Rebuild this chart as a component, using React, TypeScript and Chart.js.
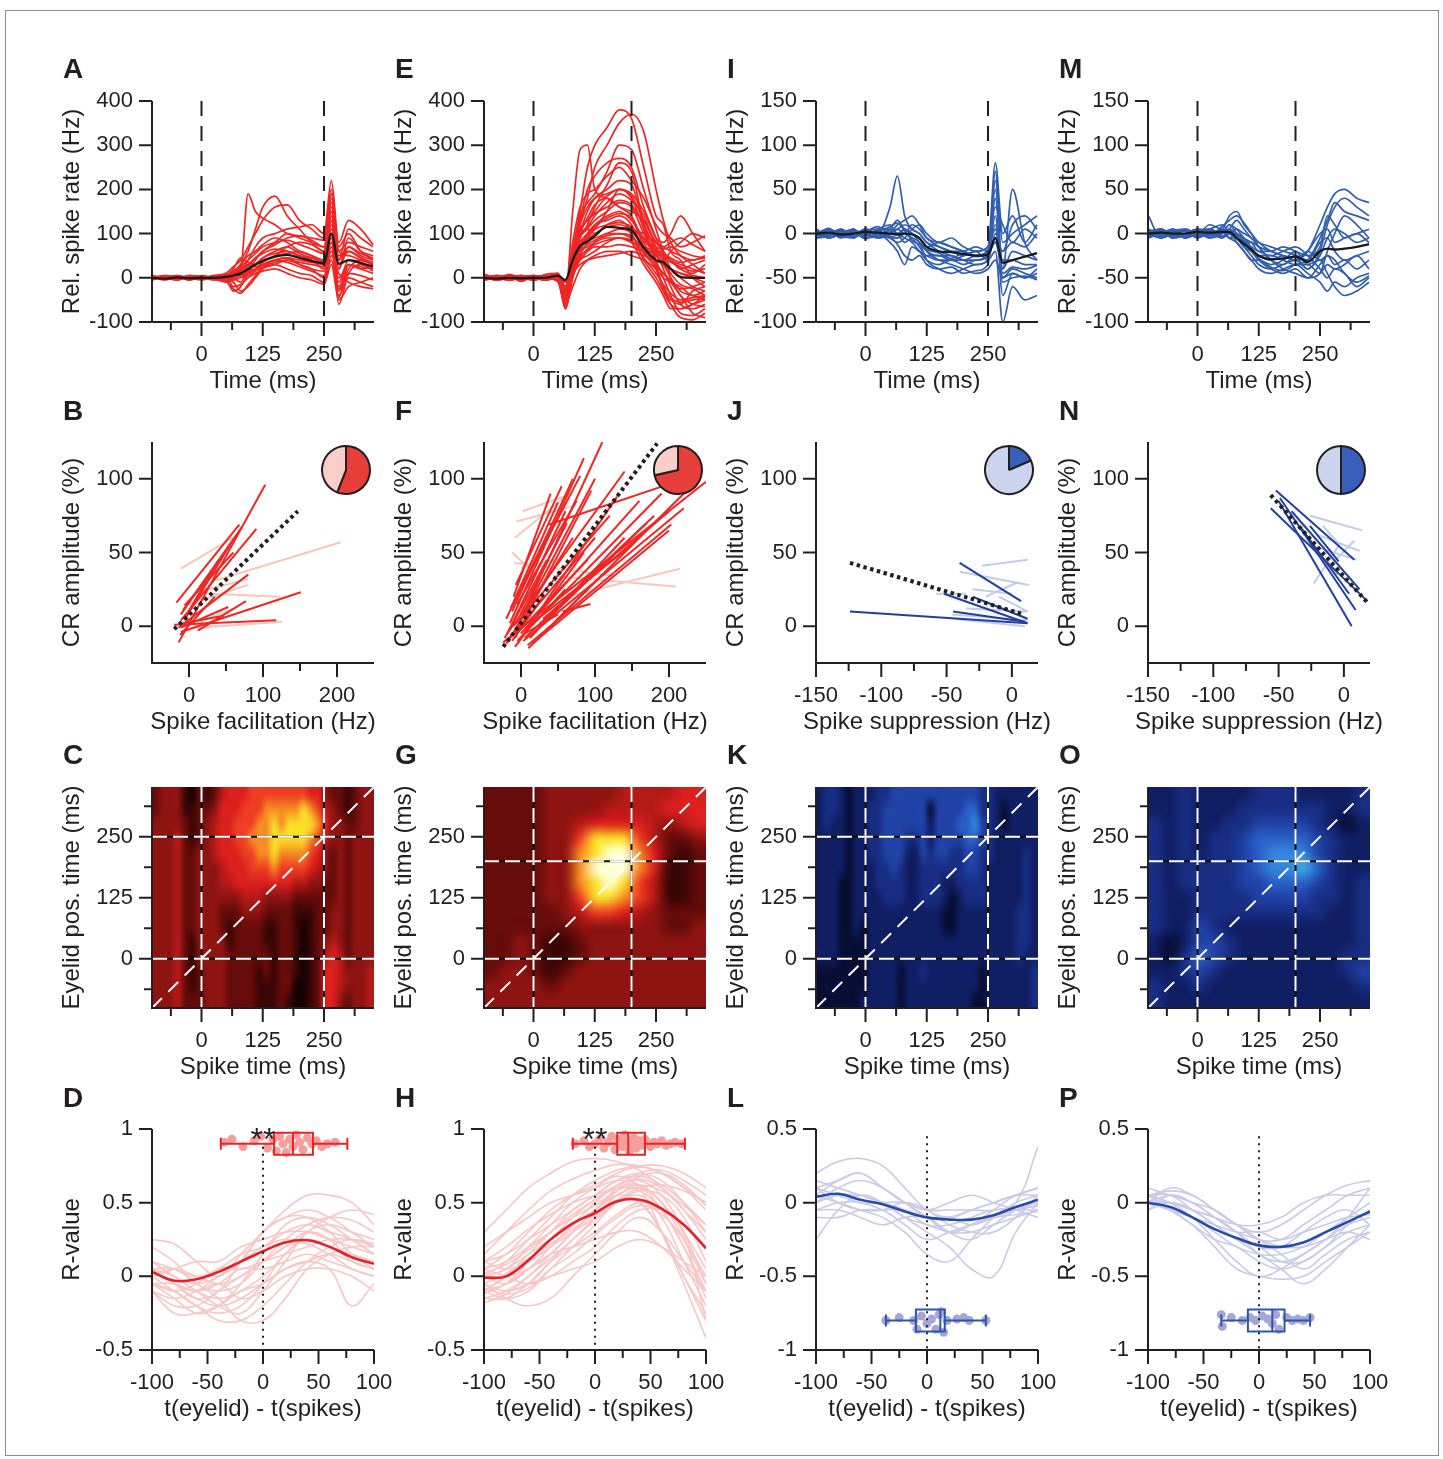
import React, { useEffect, useRef } from 'react';
import { Chart, registerables } from 'chart.js';
Chart.register(...registerables);

const FONT = '"Liberation Sans", Arial, Helvetica, sans-serif';
const INK = '#231f20';

// ---------------- Row 1: relative spike rate traces ----------------
const timeBins = [-100, -75, -50, -25, 0, 25, 50, 65, 80, 95, 110, 125, 150, 175, 200, 225, 250, 265, 280, 300, 325, 350];

const meanA = [0, -2, 1, -1, 0, 0, 2, 5, 10, 20, 30, 38, 48, 52, 45, 38, 33, 100, 32, 40, 33, 26];
const tracesA = [
  [5, 0, -5, 3, 0, 2, 5, 10, 20, 190, 150, 135, 120, 100, 95, 90, 85, 200, 60, 50, 40, 30],
  [-3, 5, 2, -4, 3, 0, -5, 15, 30, 60, 110, 160, 185, 140, 110, 80, 60, 180, 40, 70, 50, 40],
  [2, -5, 4, 0, -3, 5, 10, 25, 40, 70, 100, 130, 160, 165, 130, 110, 90, 150, 50, 60, 45, 30],
  [0, 3, -2, 5, 0, -4, 0, 5, 15, 40, 70, 90, 100, 110, 115, 120, 100, 220, 80, 130, 110, 75],
  [-5, 2, 0, -3, 5, 0, -5, -30, -20, 10, 40, 60, 80, 100, 90, 80, 70, 170, 20, 90, 60, 50],
  [3, -2, 5, 0, -5, 3, 5, 0, -10, 20, 30, 45, 60, 70, 55, 45, 40, 130, -30, 20, 40, 30],
  [0, 5, -4, 2, 0, -2, 0, 10, 30, 50, 60, 75, 90, 80, 60, 50, 40, 90, -60, 10, 30, 20],
  [-2, 0, 3, -5, 2, 0, -5, -10, -30, -20, 0, 20, 30, 40, 30, 20, 15, 60, -20, 30, 20, 10],
  [4, -3, 0, 2, -3, 5, 5, 15, 5, 10, 20, 35, 50, 55, 60, 50, 40, 110, 60, 80, 70, 60],
  [0, 2, -5, 3, 0, -3, -10, 5, 20, 30, 25, 30, 40, 45, 30, 20, 0, 40, -40, 0, -10, -20],
  [-3, 4, 2, -2, 4, 0, 0, -5, 10, 15, 20, 25, 30, 20, 10, 5, -10, 50, 10, -10, -20, -25],
  [2, -4, 0, 3, -2, 2, 5, 20, 45, 35, 30, 40, 50, 70, 80, 75, 60, 160, 70, 100, 60, 40],
  [0, 0, 3, -3, 0, 4, -3, 0, 5, 15, 30, 45, 55, 60, 50, 40, 20, 80, -10, 40, 35, 15],
  [-4, 3, -3, 5, 3, -5, 3, -20, -15, 0, 10, 15, 20, 10, 0, -5, -15, 30, -50, -20, -10, 0],
  [2, -2, 4, -4, 2, -2, 0, 5, 10, 25, 45, 55, 65, 60, 50, 45, 35, 120, 30, 60, 45, 35],
  [-2, 2, -2, 2, -2, 2, 3, -5, 0, 5, 15, 25, 35, 40, 35, 30, 25, 100, 0, 30, 20, 25],
  [3, -3, 3, -3, 3, -3, -8, -25, -35, -15, 5, 25, 40, 45, 40, 35, 30, 140, -45, 30, 25, 20],
  [-3, 3, -3, 3, -3, 3, 8, 10, 25, 40, 55, 70, 80, 85, 75, 65, 55, 190, 40, 110, 90, 70],
  [1, -1, 5, -5, 1, -1, 2, 0, 5, 10, 20, 30, 40, 35, 25, 15, 5, 70, -25, 10, 5, -5],
  [-1, 1, -5, 5, -1, 1, -2, 5, 15, 30, 45, 60, 75, 90, 95, 85, 70, 150, 20, 70, 55, 45],
];

const meanE = [0, -2, 0, -1, 0, 0, 5, -5, 40, 72, 82, 95, 115, 113, 107, 68, 40, 35, 20, 2, 0, 0];
const tracesE = [
  [5, -3, 8, 0, -5, 3, 0, -40, 150, 290, 300, 200, 180, 160, 150, 130, 80, 60, 40, 30, 20, 10],
  [0, 5, -5, 3, 0, -5, 5, -20, 60, 150, 250, 300, 340, 380, 360, 250, 140, 120, 60, 40, 0, -20],
  [-5, 0, 3, -8, 5, 0, -10, -60, 40, 120, 180, 250, 300, 350, 370, 330, 200, 130, 80, 50, 30, 10],
  [3, -5, 0, 5, -3, 8, 10, -30, 80, 160, 190, 200, 230, 250, 220, 180, 120, 100, 90, 70, 80, 95],
  [0, 3, -3, 0, 5, -3, 0, -50, 30, 100, 150, 180, 200, 220, 210, 120, 60, 20, -20, -60, -70, -60],
  [8, 0, 5, -5, 0, 3, -5, -70, 20, 90, 110, 130, 150, 170, 160, 100, 50, 30, 0, -30, -40, -50],
  [-3, 5, 0, 3, -5, 0, 5, -40, 50, 110, 130, 150, 180, 160, 140, 80, 30, 10, -10, -40, -80, -90],
  [0, -5, 3, 0, 3, -5, 0, -60, 20, 70, 90, 120, 130, 140, 120, 60, 20, -20, -60, -90, -95, -80],
  [5, 0, -3, 5, 0, 3, 10, -20, 60, 100, 110, 100, 120, 130, 110, 100, 80, 70, 60, 50, 40, 50],
  [-5, 3, 5, -3, 0, 0, -5, -50, 10, 50, 80, 90, 100, 110, 100, 40, 0, -30, -50, -60, -30, -20],
  [3, 0, -5, 0, 3, 5, 0, -30, 30, 60, 70, 80, 90, 90, 80, 70, 60, 50, 40, 20, 30, 40],
  [0, -3, 0, 5, -3, -3, 5, -60, 0, 40, 50, 60, 80, 90, 80, 30, -10, -40, -70, -70, -60, -50],
  [-3, 5, 3, -5, 5, 0, 0, -40, 20, 50, 60, 70, 70, 75, 70, 60, 40, 30, 20, 10, 0, -10],
  [5, -5, 0, 3, 0, -5, 5, -10, 40, 80, 90, 110, 150, 200, 190, 150, 90, 80, 100, 140, 100, 60],
  [0, 3, -3, 0, -5, 3, 0, -60, -20, 20, 40, 50, 60, 60, 50, 40, 20, 0, -10, -20, -40, -30],
  [-5, 0, 5, -3, 0, 5, -5, -30, 10, 30, 40, 45, 50, 55, 60, 50, 40, 30, 20, 10, 5, 0],
  [3, -3, 0, 3, 5, -3, 0, -50, 30, 90, 120, 160, 210, 260, 240, 120, 40, 0, -40, -80, -85, -70],
  [0, 5, -5, 0, -3, 0, 3, -70, 0, 60, 100, 120, 140, 150, 130, 90, 60, 50, 40, 20, 10, 30],
  [-3, 0, 3, 5, 0, 3, -3, -20, 50, 120, 160, 180, 190, 200, 180, 110, 30, -30, -60, -70, -60, -40],
  [5, -3, -3, 0, 3, -5, 0, -40, 20, 40, 60, 80, 100, 100, 90, 70, 50, 40, 60, 80, 100, 90],
  [-2, 4, -4, 2, -2, 4, 3, -45, 60, 140, 170, 190, 240, 300, 290, 200, 110, 60, 20, 0, -20, -30],
  [2, -2, 2, -2, 4, -4, 0, -35, 35, 80, 100, 110, 120, 125, 115, 85, 55, 45, 35, 25, 15, 20],
  [0, 2, -2, 4, -4, 2, 5, -25, 45, 95, 115, 140, 170, 190, 175, 140, 70, 40, 10, -15, -25, -40],
  [-4, 2, 0, -2, 2, 0, -3, -55, 15, 60, 75, 85, 95, 100, 95, 55, 25, 10, -5, -25, -20, -10],
  [3, -4, 6, -2, 0, -3, 2, -65, 10, 70, 95, 115, 135, 145, 135, 70, 20, -20, -45, -55, -50, -45],
  [-3, 4, -6, 2, 3, 3, -2, -45, 40, 100, 135, 165, 185, 200, 185, 130, 80, 70, 80, 90, 75, 60],
  [4, 0, -4, 4, -4, 0, 4, -30, 25, 65, 85, 100, 115, 120, 110, 90, 65, 55, 45, 35, 40, 45],
  [0, -4, 4, 0, 4, -4, 0, -50, 50, 130, 200, 230, 260, 270, 250, 160, 90, 50, 0, -40, -60, -65],
  [-4, 4, 0, -4, 0, 4, -4, -60, 5, 45, 65, 75, 85, 90, 85, 45, 10, -15, -35, -50, -45, -40],
  [2, 2, -2, -2, 2, 2, 6, -20, 55, 110, 130, 145, 160, 175, 165, 120, 70, 65, 70, 60, 50, 45],
];

const meanI = [0, 1, -1, 0, 2, 1, 0, -1, 0, -1, -5, -15, -20, -21, -23, -25, -24, -5, -33, -30, -26, -22];
const tracesI = [
  [5, -3, 2, 0, 5, 0, 30, 65, 20, 5, 0, -10, -15, -20, -25, -20, -15, 80, 0, 20, -10, 10],
  [0, 5, -3, 3, -2, 5, 10, 0, 5, 0, -10, -30, -40, -45, -40, -35, -30, 70, -50, -45, -50, -40],
  [-5, 0, 3, -5, 5, -3, 0, 10, 15, 20, 10, -5, -10, -15, -20, -25, -20, 50, -40, 50, -10, -30],
  [3, -5, 0, 5, -5, 0, -10, -20, -35, -15, -20, -25, -30, -30, -25, -20, -30, -20, -100, -60, -75, -70],
  [0, 3, -5, 0, 3, 5, 5, 0, -5, -10, -20, -30, -35, -30, -35, -30, -25, 20, -70, -45, -50, -45],
  [-3, 0, 5, -3, 0, -5, 0, 5, 10, 5, 0, -10, -20, -25, -30, -35, -30, 0, -20, 10, 20, 5],
  [5, -5, 0, 3, -3, 3, -5, -10, -5, 5, 10, 0, -10, -5, -15, -20, -15, 30, 10, -10, 5, -5],
  [0, 5, -3, -5, 5, 0, 5, 15, 5, 0, -5, -20, -30, -35, -40, -45, -40, -30, -50, -40, -45, -50],
  [-5, -3, 3, 0, 0, 3, -5, -5, 0, -5, -15, -25, -25, -30, -30, -30, -25, -10, -20, -10, -15, 0],
  [3, 0, -3, 5, -5, -3, 0, 5, 0, 10, 5, -5, -15, -20, -20, -15, -20, 60, -10, 0, 10, 20],
  [0, -3, 5, -3, 3, 0, 3, 0, -10, -5, -10, -20, -25, -25, -30, -25, -20, 10, -30, -30, -35, -35],
  [-3, 5, 0, 3, 0, -5, -3, -5, 5, 0, -5, -15, -10, -15, -20, -25, -20, -10, -40, -20, -25, -30],
  [2, -2, 4, -4, 2, 8, -3, -12, -25, -30, -25, -35, -40, -38, -45, -42, -35, 40, -55, -50, -48, -52],
  [-2, 6, -4, 2, -6, 2, 8, 12, 3, -8, -12, -18, -22, -28, -22, -26, -18, 5, -45, -38, -40, -36],
];

const meanM = [0, 1, 0, 0, 2, 1, 2, 2, -5, -12, -18, -25, -29, -28, -26, -32, -20, -17, -18, -17, -15, -12];
const tracesM = [
  [20, -5, 0, 5, 0, 10, 5, 20, 25, 10, 0, -10, -20, -25, -30, -20, 10, 30, 45, 50, 40, 35],
  [0, 5, -3, 0, 5, -5, 0, 10, 0, -10, -20, -30, -40, -45, -40, -50, -45, -20, 0, 20, 10, -5],
  [-5, 0, 5, -5, 0, 5, 10, 0, -5, -15, -25, -35, -40, -35, -30, -40, -20, 10, 30, 40, 30, 20],
  [5, -3, 0, 3, -5, 0, -5, 5, -10, -20, -30, -40, -45, -40, -35, -45, -55, -65, -55, -60, -50, -45],
  [0, 3, -5, 0, 3, 5, 0, 5, 0, -5, -15, -20, -25, -20, -15, -25, -40, -50, -40, -45, -60, -50],
  [-3, 0, 3, -5, 0, -3, 5, -5, -5, -10, -10, -15, -20, -25, -30, -20, 0, 5, -10, -5, 0, 5],
  [3, 5, 0, 0, -3, 3, -5, 0, 5, 0, -5, -15, -30, -35, -25, -30, -10, -5, -20, -30, -25, -20],
  [0, -5, 3, 5, 0, 0, 3, -5, -10, -20, -30, -30, -35, -30, -20, -35, -30, -45, -60, -70, -65, -55],
  [-5, 3, -3, 0, 5, 3, 0, 10, 5, -5, -10, -20, -20, -15, -20, -25, -15, 20, 10, -5, 0, -10],
  [5, 0, 5, -3, 0, -5, 3, 0, -5, -15, -20, -25, -30, -25, -30, -20, -30, -25, -35, -30, -40, -30],
  [0, -3, 0, 3, 3, 5, -3, 5, 15, 5, -5, -10, -15, -20, -25, -40, -25, -5, 5, 0, -10, -5],
  [-3, 5, -5, -3, 0, 0, 5, -5, 0, -10, -20, -25, -25, -30, -35, -35, -45, -35, -40, -35, -25, -40],
  [2, -2, 2, -4, 4, -2, 8, 15, 20, 12, 0, -15, -30, -40, -45, -50, -35, -25, -30, -45, -55, -48],
  [-2, 2, -2, 4, -4, 2, -4, 2, -2, -8, -18, -28, -38, -42, -35, -30, -5, 15, 35, 25, 20, 15],
];

// ---------------- Row 2: CR amplitude vs spike modulation (segments x1,y1,x2,y2) ----------------
const segsBDark = [
  [-14, -11, 103, 96], [-17, 16, 68, 69], [-11, 8, 71, 67], [-8, 11, 65, 62], [-11, 4, 91, 66],
  [-5, 5, 55, 55], [-14, -1, 80, 35], [-11, -4, 151, 23], [-20, 1, 118, 4], [12, -3, 77, 17],
  [-11, -1, 53, 13], [-8, 2, 47, 7], [-6, 14, 60, 50], [-3, 8, 40, 45], [-12, -6, 35, 20],
];
const segsBLight = [
  [-11, 39, 59, 60], [36, 31, 205, 57], [18, 24, 80, 32], [30, 22, 123, 20],
  [0, 15, 80, 28], [12, -1, 126, 3], [15, 3, 60, 12], [5, 1, 40, 0],
];
const regB = [-20, -2, 147, 78];

const segsFDark = [
  [-24, -11, 250, 98], [-9, -5, 110, 125], [-15, 2, 85, 114], [-12, 10, 70, 100], [-8, -8, 95, 92],
  [-18, -5, 60, 78], [-5, -12, 130, 88], [3, -10, 220, 80], [9, -13, 203, 69], [-20, 5, 45, 72],
  [-10, 0, 120, 75], [0, -5, 160, 85], [-15, -8, 100, 60], [5, -8, 180, 75], [-5, 15, 75, 85],
  [10, 0, 150, 55], [-2, -3, 90, 45], [15, -12, 200, 65], [-10, 20, 40, 90], [20, -10, 110, 35],
  [-5, -10, 60, 25], [0, 25, 80, 102], [-16, -3, 140, 105], [38, 69, 221, 100], [2, -6, 50, 8],
  [56, 10, 94, 15], [-7, 28, 55, 95], [25, 0, 170, 70], [-12, -10, 30, 20], [10, -15, 230, 95],
  [-20, -12, 70, 60], [-3, 2, 100, 100], [12, -8, 140, 60], [-14, 12, 50, 84], [6, -4, 190, 90],
  [-8, -14, 85, 50], [18, -4, 125, 48], [-22, -8, 35, 45], [30, 5, 200, 78], [-1, 8, 62, 70],
];
const segsFLight = [
  [-6, 71, 74, 82], [-9, 43, 126, 34], [44, 34, 209, 27], [62, 20, 215, 39],
  [-8, 60, 60, 88], [2, 78, 70, 90], [-12, 50, 30, 30], [0, 40, 50, 45],
];
const regF = [-24, -14, 184, 124];

const segsJDark = [
  [-124, 10, 12, 2], [-52, 22, 12, 2], [-40, 43, 7, 17], [-45, 10, 10, 3], [-30, 20, 12, 5],
];
const segsJLight = [
  [-23, 41, 12, 45], [-40, 37, 13, 28], [-30, 25, 0, 22], [-20, 20, 5, 30], [-58, 22, -35, 22],
  [-46, 8, 12, 4], [-45, 5, 10, 0], [-35, 12, 12, 10], [-10, 20, 12, 10],
];
const regJ = [-124, 43, 9, 8];

const segsNDark = [
  [-52, 92, 8, 45], [-56, 80, 18, 17], [-50, 85, 6, 0], [-49, 87, 9, 11],
  [-33, 67, 4, 22], [-26, 68, -4, 44], [-40, 78, 12, 25],
];
const segsNLight = [
  [-26, 75, 14, 65], [-23, 29, -3, 56], [-20, 62, 12, 51], [-26, 55, 10, 45],
  [-16, 68, -3, 55], [-12, 40, 8, 58], [-22, 50, -5, 35],
];
const regN = [-56, 89, 18, 16];

// pie fractions [significant, non-significant]
const pieB = [56, 44];
const pieF = [71.5, 28.5];
const pieJ = [18.6, 81.4];
const pieN = [50, 50];

// ---------------- Row 3: heatmaps (rows from top y≈337 to bottom y≈-86) ----------------
// C and K: 30 columns (≈15 ms each); G and O: 15 columns (≈30 ms each)
const heatC = [
  [2, 3, 3, 3, 1, 0, 2, 1, 2, 4, 5, 5, 5, 6, 6, 6, 6, 6, 6, 6, 6, 5, 5, 3, 2, 2, 1, 2, 3, 3],
  [2, 3, 3, 3, 1, 1, 2, 2, 3, 5, 5, 5, 6, 6, 6, 7, 7, 7, 7, 7, 8, 7, 6, 4, 3, 2, 1, 2, 3, 3],
  [3, 3, 3, 3, 2, 1, 2, 3, 4, 5, 5, 6, 6, 6, 7, 7, 8, 7, 8, 8, 8, 8, 7, 5, 3, 3, 2, 2, 3, 3],
  [3, 3, 3, 4, 2, 1, 2, 3, 4, 5, 5, 6, 6, 7, 7, 7, 8, 8, 8, 8, 8, 7, 6, 4, 3, 3, 2, 3, 3, 3],
  [3, 3, 3, 4, 2, 2, 3, 3, 4, 5, 5, 5, 6, 6, 7, 7, 8, 7, 7, 7, 7, 6, 5, 3, 2, 3, 2, 3, 3, 3],
  [3, 3, 3, 4, 2, 2, 3, 3, 3, 4, 5, 5, 5, 6, 6, 6, 7, 6, 6, 6, 6, 5, 4, 3, 2, 3, 2, 3, 3, 3],
  [3, 3, 3, 4, 2, 2, 3, 3, 3, 4, 4, 5, 5, 5, 5, 5, 5, 5, 5, 4, 4, 3, 3, 2, 2, 3, 2, 3, 3, 3],
  [3, 3, 3, 4, 2, 2, 3, 3, 3, 3, 3, 3, 4, 4, 4, 3, 3, 3, 3, 2, 2, 2, 2, 2, 2, 3, 2, 3, 3, 3],
  [3, 3, 3, 4, 2, 2, 3, 3, 3, 2, 2, 2, 3, 3, 3, 2, 2, 2, 2, 1, 1, 1, 2, 2, 3, 3, 2, 3, 3, 3],
  [3, 3, 3, 4, 2, 2, 3, 3, 3, 2, 1, 2, 2, 2, 2, 1, 1, 2, 2, 1, 0, 1, 2, 2, 3, 3, 2, 3, 3, 3],
  [3, 3, 3, 4, 2, 1, 3, 3, 3, 3, 1, 2, 2, 2, 2, 1, 1, 2, 2, 1, 0, 1, 2, 3, 4, 3, 2, 3, 3, 3],
  [3, 3, 3, 4, 2, 1, 3, 3, 3, 3, 2, 2, 2, 2, 2, 2, 1, 2, 2, 1, 0, 1, 2, 4, 5, 4, 2, 3, 3, 3],
  [3, 3, 3, 4, 2, 1, 2, 3, 3, 3, 2, 2, 2, 2, 1, 2, 1, 2, 2, 1, 0, 1, 2, 5, 5, 4, 3, 3, 3, 4],
  [3, 3, 3, 4, 2, 1, 2, 3, 3, 3, 2, 2, 2, 2, 1, 1, 1, 2, 2, 0, 0, 1, 2, 5, 5, 4, 3, 3, 3, 4],
  [3, 3, 3, 4, 2, 2, 2, 3, 3, 3, 2, 2, 2, 2, 1, 1, 1, 2, 1, 0, 0, 1, 2, 5, 5, 3, 2, 3, 3, 4],
];
const heatG = [
  [2, 2, 2, 2, 3, 3, 3, 3, 3, 4, 4, 4, 4, 5, 5],
  [2, 2, 2, 2, 3, 3, 3, 3, 4, 4, 4, 4, 5, 5, 5],
  [2, 2, 2, 2, 3, 3, 4, 5, 5, 5, 5, 4, 3, 4, 5],
  [2, 2, 2, 2, 3, 3, 6, 8, 8, 8, 6, 4, 2, 2, 3],
  [2, 2, 2, 2, 3, 3, 7, 8, 9, 9, 7, 5, 2, 1, 2],
  [2, 2, 2, 2, 3, 3, 7, 9, 9, 9, 7, 5, 1, 1, 2],
  [2, 2, 2, 2, 3, 3, 7, 8, 9, 8, 6, 4, 1, 1, 2],
  [2, 2, 2, 2, 3, 3, 6, 8, 8, 7, 6, 4, 1, 1, 2],
  [2, 2, 2, 2, 2, 3, 4, 6, 6, 5, 4, 3, 2, 2, 2],
  [2, 2, 2, 2, 2, 2, 3, 3, 3, 3, 3, 3, 2, 2, 3],
  [2, 2, 3, 2, 1, 1, 2, 3, 3, 3, 3, 3, 3, 3, 3],
  [2, 2, 3, 2, 1, 1, 2, 3, 3, 3, 3, 3, 3, 3, 3],
  [2, 3, 3, 2, 1, 2, 3, 3, 3, 3, 3, 3, 3, 3, 3],
  [3, 3, 3, 3, 2, 3, 3, 3, 3, 3, 3, 3, 3, 3, 3],
  [3, 3, 3, 3, 3, 3, 3, 3, 3, 3, 3, 3, 3, 3, 3],
];
const heatK = [
  [2, 3, 3, 2, 1, 2, 2, 2, 3, 3, 4, 4, 4, 4, 4, 4, 4, 4, 4, 4, 4, 4, 3, 3, 2, 2, 2, 2, 2, 2],
  [2, 3, 3, 2, 1, 2, 2, 3, 3, 4, 4, 4, 4, 4, 4, 1, 4, 4, 4, 4, 5, 5, 3, 3, 2, 1, 2, 2, 2, 2],
  [2, 3, 2, 2, 1, 2, 2, 3, 3, 4, 4, 4, 4, 4, 4, 2, 4, 4, 4, 5, 5, 6, 4, 3, 2, 1, 2, 2, 2, 2],
  [2, 2, 2, 2, 1, 2, 2, 3, 3, 4, 4, 4, 3, 3, 4, 2, 4, 4, 4, 4, 5, 5, 4, 3, 2, 2, 2, 2, 2, 2],
  [2, 2, 2, 2, 1, 2, 2, 3, 3, 4, 4, 4, 2, 2, 4, 3, 4, 4, 3, 3, 4, 4, 3, 3, 2, 2, 2, 2, 3, 2],
  [2, 2, 2, 2, 1, 2, 2, 2, 3, 3, 4, 3, 2, 2, 3, 3, 3, 3, 3, 3, 4, 4, 3, 2, 2, 2, 2, 2, 3, 2],
  [2, 2, 2, 1, 1, 2, 2, 2, 3, 3, 3, 3, 2, 2, 3, 3, 3, 2, 2, 3, 3, 3, 3, 2, 2, 2, 2, 2, 3, 2],
  [2, 2, 2, 1, 1, 2, 2, 2, 2, 3, 3, 3, 2, 2, 3, 3, 3, 2, 1, 2, 3, 3, 3, 2, 2, 2, 2, 2, 3, 2],
  [2, 2, 2, 1, 1, 2, 2, 2, 2, 2, 2, 2, 2, 2, 2, 2, 2, 1, 1, 2, 2, 2, 2, 2, 2, 2, 2, 3, 3, 2],
  [2, 2, 2, 1, 1, 2, 1, 2, 2, 2, 2, 2, 2, 2, 2, 2, 2, 1, 1, 2, 2, 2, 2, 2, 2, 2, 2, 3, 3, 2],
  [2, 2, 2, 1, 1, 1, 1, 2, 2, 2, 2, 2, 2, 2, 2, 2, 2, 2, 2, 2, 2, 2, 2, 2, 2, 2, 2, 3, 3, 2],
  [2, 2, 2, 1, 1, 1, 1, 2, 2, 2, 2, 2, 2, 2, 2, 2, 2, 2, 2, 2, 2, 2, 2, 2, 2, 2, 2, 3, 2, 2],
  [1, 1, 1, 1, 1, 1, 1, 2, 2, 2, 2, 1, 2, 2, 3, 2, 2, 2, 2, 2, 2, 2, 1, 2, 2, 2, 2, 2, 2, 3],
  [1, 1, 1, 1, 1, 1, 1, 2, 2, 2, 2, 1, 2, 2, 2, 2, 2, 2, 2, 2, 2, 2, 1, 2, 2, 2, 2, 2, 2, 3],
  [1, 1, 1, 1, 1, 1, 2, 2, 2, 2, 2, 1, 2, 2, 2, 2, 2, 2, 2, 2, 2, 1, 1, 2, 2, 2, 2, 2, 2, 3],
];
const heatO = [
  [2, 2, 3, 2, 2, 2, 2, 3, 3, 3, 2, 2, 2, 2, 3],
  [2, 2, 3, 2, 2, 2, 3, 3, 3, 3, 3, 3, 2, 2, 3],
  [3, 2, 3, 2, 2, 3, 3, 4, 4, 4, 4, 3, 2, 1, 2],
  [3, 2, 3, 2, 3, 3, 4, 5, 5, 5, 5, 4, 3, 2, 2],
  [3, 2, 3, 2, 3, 3, 4, 5, 6, 6, 6, 4, 3, 2, 2],
  [3, 2, 3, 3, 3, 3, 4, 5, 6, 6, 7, 5, 3, 2, 2],
  [3, 2, 3, 3, 3, 3, 4, 4, 5, 5, 5, 4, 3, 2, 3],
  [3, 2, 2, 3, 3, 3, 3, 4, 4, 4, 4, 3, 3, 2, 3],
  [3, 2, 2, 3, 3, 3, 3, 3, 3, 3, 3, 3, 2, 2, 3],
  [3, 2, 2, 4, 3, 2, 2, 2, 2, 2, 2, 2, 2, 2, 3],
  [2, 1, 2, 4, 4, 3, 2, 2, 2, 2, 2, 2, 2, 2, 3],
  [2, 1, 3, 5, 4, 3, 2, 2, 2, 2, 2, 2, 2, 3, 3],
  [2, 2, 3, 4, 3, 2, 2, 2, 2, 2, 2, 2, 2, 3, 4],
  [3, 2, 2, 3, 2, 2, 2, 2, 2, 2, 2, 2, 2, 2, 3],
  [3, 2, 2, 2, 2, 2, 2, 2, 2, 2, 2, 2, 2, 2, 2],
];
const heatRedMap = [[22, 2, 2], [60, 6, 6], [102, 12, 10], [142, 20, 18], [182, 26, 22], [220, 32, 30], [238, 62, 35], [245, 140, 35], [250, 220, 40], [255, 255, 215]];
const heatBlueMap = [[2, 2, 14], [8, 14, 52], [16, 30, 100], [24, 46, 132], [32, 66, 166], [42, 96, 200], [52, 134, 222], [62, 172, 234], [130, 210, 245], [220, 240, 255]];

// ---------------- Row 4: R-value vs lag ----------------
const lagBins = [-100, -80, -60, -40, -20, 0, 20, 40, 60, 80, 100];

const meanD = [0.03, -0.03, -0.02, 0.03, 0.1, 0.17, 0.23, 0.245, 0.2, 0.13, 0.085];
const tracesD = [
  [0.25, 0.22, 0.1, 0.0, 0.15, 0.3, 0.45, 0.55, 0.55, 0.5, 0.35],
  [0.05, -0.05, -0.15, -0.1, 0.1, 0.3, 0.4, 0.45, 0.4, 0.3, 0.2],
  [-0.05, -0.15, -0.25, -0.2, -0.05, 0.15, 0.35, 0.4, 0.35, 0.25, 0.15],
  [0.1, 0.0, -0.1, -0.2, -0.25, -0.1, 0.1, 0.3, 0.35, 0.3, 0.25],
  [0.0, -0.1, -0.2, -0.25, -0.2, -0.05, 0.15, 0.25, 0.2, 0.15, 0.1],
  [0.05, 0.05, -0.05, -0.15, -0.3, -0.3, -0.15, 0.05, 0.15, 0.2, 0.2],
  [-0.1, -0.2, -0.2, -0.1, 0.0, 0.1, 0.2, 0.3, 0.25, 0.1, 0.05],
  [0.0, 0.05, 0.1, 0.1, 0.2, 0.25, 0.3, 0.3, 0.25, 0.2, 0.15],
  [-0.05, -0.05, -0.1, -0.05, 0.05, 0.05, 0.1, 0.15, 0.1, 0.05, 0.0],
  [0.05, -0.05, -0.15, -0.2, -0.15, -0.05, 0.05, 0.1, 0.05, -0.2, -0.05],
  [0.1, 0.05, 0.0, 0.05, 0.15, 0.2, 0.3, 0.35, 0.3, 0.25, 0.15],
  [-0.1, -0.25, -0.25, -0.2, -0.1, -0.05, 0.05, 0.1, 0.15, 0.1, 0.05],
  [0.0, 0.05, 0.0, -0.05, 0.0, 0.1, 0.2, 0.25, 0.2, 0.15, 0.1],
  [0.1, 0.0, -0.05, 0.0, 0.1, 0.3, 0.4, 0.4, 0.3, 0.15, 0.05],
  [-0.05, -0.1, -0.05, 0.05, 0.05, 0.1, 0.15, 0.2, 0.25, 0.25, 0.2],
  [0.05, -0.05, -0.1, -0.05, -0.15, -0.1, 0.0, 0.05, 0.05, 0.0, -0.1],
  [0.2, 0.1, -0.05, -0.1, -0.05, 0.1, 0.25, 0.35, 0.4, 0.38, 0.3],
  [-0.1, -0.15, -0.1, 0.0, 0.1, 0.2, 0.25, 0.22, 0.15, 0.05, 0.0],
  [0.05, 0.0, -0.1, -0.15, -0.1, 0.0, 0.15, 0.3, 0.4, 0.45, 0.42],
  [-0.05, -0.1, -0.2, -0.3, -0.3, -0.2, -0.05, 0.1, 0.2, 0.25, 0.22],
];

const meanH = [-0.01, 0.0, 0.11, 0.25, 0.36, 0.43, 0.51, 0.52, 0.46, 0.35, 0.19];
const tracesH = [
  [0.3, 0.45, 0.6, 0.7, 0.78, 0.8, 0.78, 0.72, 0.6, 0.45, 0.3],
  [0.15, 0.3, 0.45, 0.58, 0.66, 0.72, 0.76, 0.75, 0.7, 0.6, 0.5],
  [0.0, 0.1, 0.25, 0.4, 0.55, 0.65, 0.72, 0.75, 0.75, 0.7, 0.6],
  [-0.1, 0.0, 0.15, 0.3, 0.45, 0.55, 0.65, 0.7, 0.65, 0.5, 0.3],
  [-0.15, -0.1, 0.0, 0.15, 0.3, 0.45, 0.6, 0.7, 0.72, 0.65, 0.55],
  [0.0, 0.05, 0.15, 0.25, 0.35, 0.45, 0.55, 0.6, 0.5, 0.3, 0.05],
  [-0.05, -0.1, -0.05, 0.1, 0.25, 0.4, 0.55, 0.6, 0.45, 0.2, -0.1],
  [0.1, 0.05, 0.1, 0.2, 0.3, 0.4, 0.5, 0.55, 0.4, 0.1, -0.2],
  [-0.1, -0.15, -0.1, 0.05, 0.2, 0.35, 0.5, 0.5, 0.3, 0.0, -0.3],
  [0.05, 0.0, -0.05, 0.0, 0.1, 0.2, 0.35, 0.45, 0.45, 0.35, 0.2],
  [-0.05, -0.15, -0.2, -0.15, 0.0, 0.15, 0.3, 0.4, 0.3, 0.1, -0.1],
  [0.0, -0.05, 0.05, 0.2, 0.35, 0.5, 0.62, 0.65, 0.55, 0.3, -0.05],
  [0.1, 0.15, 0.25, 0.35, 0.45, 0.55, 0.65, 0.68, 0.62, 0.5, 0.35],
  [-0.1, -0.05, 0.05, 0.15, 0.2, 0.25, 0.3, 0.3, 0.2, 0.05, -0.1],
  [0.2, 0.3, 0.4, 0.5, 0.55, 0.6, 0.65, 0.62, 0.5, 0.25, -0.05],
  [-0.05, -0.1, -0.05, 0.0, 0.05, 0.1, 0.2, 0.25, 0.2, 0.1, 0.0],
  [0.0, 0.05, 0.2, 0.35, 0.5, 0.6, 0.68, 0.6, 0.3, -0.05, -0.42],
  [-0.1, 0.0, 0.1, 0.2, 0.35, 0.45, 0.55, 0.5, 0.3, 0.0, -0.25],
  [0.05, 0.1, 0.2, 0.3, 0.4, 0.48, 0.58, 0.62, 0.58, 0.48, 0.35],
  [-0.15, -0.15, -0.05, 0.1, 0.2, 0.3, 0.42, 0.5, 0.45, 0.35, 0.2],
  [0.05, 0.15, 0.3, 0.45, 0.55, 0.62, 0.7, 0.74, 0.7, 0.6, 0.45],
  [-0.12, -0.05, 0.1, 0.25, 0.4, 0.52, 0.62, 0.66, 0.6, 0.45, 0.25],
  [0.0, 0.0, 0.05, 0.15, 0.3, 0.45, 0.58, 0.68, 0.7, 0.62, 0.48],
  [-0.08, -0.12, -0.08, 0.05, 0.15, 0.28, 0.4, 0.48, 0.42, 0.25, 0.0],
  [0.1, 0.2, 0.32, 0.42, 0.5, 0.55, 0.6, 0.58, 0.45, 0.2, -0.15],
  [-0.18, -0.12, 0.0, 0.12, 0.25, 0.38, 0.5, 0.58, 0.55, 0.4, 0.1],
  [0.02, 0.08, 0.18, 0.3, 0.42, 0.52, 0.6, 0.62, 0.5, 0.28, -0.3],
  [-0.05, 0.02, 0.12, 0.22, 0.32, 0.42, 0.52, 0.6, 0.62, 0.58, 0.5],
];

const meanL = [0.04, 0.06, 0.02, -0.01, -0.06, -0.1, -0.115, -0.115, -0.085, -0.03, 0.02];
const tracesL = [
  [0.2, 0.28, 0.3, 0.25, 0.1, -0.05, -0.1, -0.05, 0.0, 0.05, 0.1],
  [0.1, 0.15, 0.2, 0.1, 0.0, -0.05, -0.05, -0.05, -0.05, 0.0, 0.38],
  [-0.25, -0.05, 0.05, 0.0, -0.1, -0.15, -0.2, -0.2, -0.15, -0.1, -0.05],
  [0.05, 0.0, -0.05, -0.1, -0.2, -0.35, -0.4, -0.25, -0.1, 0.0, 0.05],
  [0.0, 0.05, 0.05, 0.0, -0.1, -0.2, -0.3, -0.45, -0.5, -0.2, 0.0],
  [0.1, 0.05, 0.0, 0.0, 0.0, -0.05, 0.0, 0.05, 0.0, -0.05, -0.1],
  [-0.05, -0.05, -0.1, -0.15, -0.1, -0.1, -0.2, -0.25, -0.15, -0.05, 0.0],
  [0.0, 0.1, 0.15, 0.1, 0.0, -0.1, -0.1, -0.05, 0.0, 0.05, 0.05],
  [0.15, 0.1, 0.05, 0.0, -0.05, -0.15, -0.15, -0.1, -0.05, -0.05, -0.05],
  [-0.1, -0.1, -0.05, -0.05, -0.05, -0.1, -0.1, -0.15, -0.1, -0.05, -0.02],
  [0.05, 0.15, 0.2, 0.1, 0.0, -0.1, -0.2, -0.15, -0.05, 0.05, 0.1],
  [-0.05, 0.0, 0.0, -0.05, -0.15, -0.25, -0.2, -0.15, -0.1, -0.08, -0.06],
  [0.1, 0.0, -0.05, -0.05, 0.0, -0.05, -0.15, -0.2, -0.2, -0.1, 0.05],
];

const meanP = [0.0, -0.03, -0.1, -0.18, -0.24, -0.29, -0.3, -0.27, -0.2, -0.13, -0.06];
const tracesP = [
  [0.05, 0.08, 0.05, -0.05, -0.15, -0.2, -0.15, -0.05, 0.05, 0.12, 0.15],
  [0.0, 0.1, 0.05, -0.05, -0.15, -0.25, -0.25, -0.15, -0.05, 0.05, 0.1],
  [0.05, 0.0, -0.1, -0.25, -0.4, -0.5, -0.45, -0.35, -0.25, -0.15, -0.1],
  [0.0, -0.05, -0.15, -0.3, -0.45, -0.5, -0.52, -0.5, -0.4, -0.3, -0.2],
  [0.05, 0.05, -0.05, -0.15, -0.25, -0.35, -0.45, -0.55, -0.45, -0.3, -0.15],
  [0.0, -0.05, -0.1, -0.2, -0.3, -0.35, -0.35, -0.3, -0.2, -0.1, 0.0],
  [-0.05, 0.0, -0.05, -0.15, -0.25, -0.3, -0.4, -0.4, -0.3, -0.2, -0.15],
  [0.1, 0.05, 0.0, -0.1, -0.2, -0.25, -0.3, -0.3, -0.25, -0.2, -0.25],
  [0.0, 0.0, -0.05, -0.1, -0.15, -0.15, -0.1, 0.0, 0.05, 0.05, 0.05],
  [0.05, -0.05, -0.15, -0.25, -0.3, -0.4, -0.45, -0.4, -0.3, -0.15, -0.05],
  [-0.05, 0.05, 0.0, -0.1, -0.2, -0.3, -0.3, -0.2, -0.1, -0.05, -0.15],
  [0.0, -0.05, -0.1, -0.15, -0.2, -0.2, -0.25, -0.2, -0.15, -0.1, -0.08],
  [0.05, 0.0, -0.05, -0.1, -0.2, -0.35, -0.4, -0.35, -0.25, -0.1, 0.1],
  [0.0, 0.05, 0.0, -0.05, -0.15, -0.25, -0.35, -0.45, -0.35, -0.25, -0.2],
];

// box stats: [whisker low, q1, median, q3, whisker high]
const boxD = [-38, 10, 27, 45, 76];
const boxH = [-20, 20, 30, 45, 81];
const boxL = [-37, -10, 12, 16, 53];
const boxP = [-34, -10, 12, 23, 46];

const dotsDx = [-35, -28, -18, -8, -2, 4, 9, 12, 15, 18, 21, 24, 27, 30, 33, 36, 40, 44, 48, 53, 58, 65];
const dotsDy = [0.91, 0.93, 0.88, 0.92, 0.95, 0.87, 0.93, 0.85, 0.95, 0.9, 0.84, 0.93, 0.88, 0.96, 0.91, 0.86, 0.94, 0.9, 0.92, 0.88, 0.9, 0.91];
const dotsHx = [-18, -10, -5, 0, 4, 8, 12, 15, 18, 20, 22, 25, 27, 29, 31, 33, 35, 37, 40, 42, 45, 48, 50, 53, 56, 60, 64, 68, 72, 78];
const dotsHy = [0.9, 0.92, 0.88, 0.9, 0.93, 0.87, 0.91, 0.95, 0.86, 0.9, 0.93, 0.88, 0.96, 0.91, 0.85, 0.9, 0.94, 0.87, 0.92, 0.89, 0.93, 0.9, 0.88, 0.91, 0.9, 0.92, 0.89, 0.9, 0.91, 0.9];
const dotsLx = [-37, -25, -12, -9, -5, 0, 4, 8, 11, 13, 15, 18, 27, 33, 38, 53];
const dotsLy = [-0.8, -0.78, -0.8, -0.86, -0.77, -0.82, -0.79, -0.86, -0.76, -0.74, -0.88, -0.8, -0.79, -0.78, -0.8, -0.8];
const dotsPx = [-34, -33, -25, -15, -8, -3, 3, 8, 12, 15, 18, 25, 30, 35, 40, 46];
const dotsPy = [-0.76, -0.84, -0.78, -0.8, -0.78, -0.8, -0.77, -0.79, -0.82, -0.76, -0.86, -0.78, -0.8, -0.79, -0.8, -0.78];

// ---------------- tick arrays ----------------
const timeMajor = [0, 125, 250];
const timeMinor = [-62.5, 62.5, 187.5, 312.5];
const rateBigTicks = [-100, 0, 100, 200, 300, 400];
const rateSmallTicks = [-100, -50, 0, 50, 100, 150];
const facMajor = [0, 100, 200];
const facMinor = [50, 150];
const supMajor = [-150, -100, -50, 0];
const supMinor = [-125, -75, -25];
const crTicks = [0, 50, 100];
const lagMajor = [-100, -50, 0, 50, 100];
const lagMinor = [-75, -25, 25, 75];
const rPosTicks = [-0.5, 0, 0.5, 1];
const rNegTicks = [-1, -0.5, 0, 0.5];

// ---------------- colours ----------------
const RED = 'rgb(238,38,36)';
const PINK = 'rgb(248,198,188)';
const R4PINK = 'rgb(248,198,198)';
const R4RED = 'rgb(230,32,38)';
const BLUE = 'rgb(50,94,174)';
const DBLUE = 'rgb(32,64,160)';
const LBLUE = 'rgb(192,204,234)';
const LAV = 'rgb(202,202,232)';
const MBLUE = 'rgb(36,76,168)';

// ---------------- layout ----------------
const COL_LEFT = [152, 484, 816, 1148];
const ROW_TOP = [101, 442, 787, 1129];
const PLOT_W = 222;
const PLOT_H = 221;
const PAD_L = 120;
const PAD_T = 36;
const PAD_R = 40;
const PAD_B = 90;
const CW = PAD_L + PLOT_W + PAD_R;
const CH = PAD_T + PLOT_H + PAD_B;

type Spec = {
  key: string; col: number; row: number;
  x: number[]; y: number[];
  xMajor: number[]; xMinor: number[]; yMajor: number[]; yMinor: number[];
  xTitle: string; yTitle: string;
  datasets: any[];
  under?: (c: any) => void;
  over?: (c: any) => void;
};

function traceSets(times: number[], traces: number[][], color: string, width: number, order: number, smooth: boolean) {
  return traces.map((tr) => ({
    data: tr.map((v, i) => ({ x: times[i], y: v })),
    borderColor: color, borderWidth: width, pointRadius: 0, fill: false, order,
    ...(smooth ? { tension: 0.4 } : { cubicInterpolationMode: 'monotone' }),
  }));
}
function segSets(segs: number[][], color: string, width: number, order: number) {
  return segs.map((s) => ({
    data: [{ x: s[0], y: s[1] }, { x: s[2], y: s[3] }],
    borderColor: color, borderWidth: width, pointRadius: 0, order,
  }));
}
function regSet(s: number[]) {
  return {
    data: [{ x: s[0], y: s[1] }, { x: s[2], y: s[3] }],
    borderColor: INK, borderWidth: 4, borderDash: [3.5, 3.5], borderCapStyle: 'butt', pointRadius: 0, order: 0,
  };
}
function dotSet(xs: number[], ys: number[], color: string) {
  return {
    data: xs.map((v, i) => ({ x: v, y: ys[i] })), showLine: false,
    pointRadius: 4.5, pointBackgroundColor: color, pointBorderWidth: 0, order: 1,
  };
}

const vDashed = (xs: number[]) => (chart: any) => {
  const { ctx, chartArea: a, scales: { x } } = chart;
  ctx.save();
  ctx.strokeStyle = INK; ctx.lineWidth = 2; ctx.setLineDash([15, 10]);
  xs.forEach((v) => {
    const p = x.getPixelForValue(v);
    ctx.beginPath(); ctx.moveTo(p, a.top); ctx.lineTo(p, a.bottom); ctx.stroke();
  });
  ctx.restore();
};

const heatUnder = (grid: number[][], cmap: number[][]) => (chart: any) => {
  const { ctx, scales: { x, y } } = chart;
  const rows = grid.length;
  const cols = grid[0].length;
  const off = document.createElement('canvas');
  off.width = cols; off.height = rows;
  const o = off.getContext('2d') as CanvasRenderingContext2D;
  const img = o.createImageData(cols, rows);
  for (let r = 0; r < rows; r++) {
    for (let c = 0; c < cols; c++) {
      const col = cmap[grid[r][c]];
      const i = (r * cols + c) * 4;
      img.data[i] = col[0]; img.data[i + 1] = col[1]; img.data[i + 2] = col[2]; img.data[i + 3] = 255;
    }
  }
  o.putImageData(img, 0, 0);
  const x0 = x.getPixelForValue(x.min);
  const x1 = x.getPixelForValue(x.max);
  const y0 = y.getPixelForValue(y.max);
  const y1 = y.getPixelForValue(y.min);
  ctx.save();
  ctx.imageSmoothingEnabled = true;
  ctx.imageSmoothingQuality = 'high';
  ctx.drawImage(off, x0, y0, x1 - x0, y1 - y0);
  ctx.restore();
};

const heatLines = (vx: number[], hy: number[]) => (chart: any) => {
  const { ctx, chartArea: a, scales: { x, y } } = chart;
  const seg = (x1: number, y1: number, x2: number, y2: number) => {
    ctx.beginPath(); ctx.moveTo(x1, y1); ctx.lineTo(x2, y2); ctx.stroke();
  };
  ctx.save();
  ctx.lineWidth = 2;
  vx.forEach((v) => {
    const p = x.getPixelForValue(v);
    ctx.setLineDash([]); ctx.strokeStyle = '#111'; seg(p, a.top, p, a.bottom);
    ctx.setLineDash([15, 6]); ctx.strokeStyle = '#fff'; seg(p, a.top, p, a.bottom);
  });
  hy.forEach((v) => {
    const p = y.getPixelForValue(v);
    ctx.setLineDash([]); ctx.strokeStyle = '#111'; seg(a.left, p, a.right, p);
    ctx.setLineDash([15, 6]); ctx.strokeStyle = '#fff'; seg(a.left, p, a.right, p);
  });
  ctx.setLineDash([14, 9]); ctx.strokeStyle = '#fff';
  seg(x.getPixelForValue(x.min), y.getPixelForValue(x.min), x.getPixelForValue(x.max), y.getPixelForValue(x.max));
  ctx.restore();
};

const lagOver = (stats: number[], yc: number, half: number, color: string, dotTop: number, star: boolean) => (chart: any) => {
  const { ctx, chartArea: a, scales: { x, y } } = chart;
  const X = (v: number) => x.getPixelForValue(v);
  ctx.save();
  ctx.strokeStyle = INK; ctx.lineWidth = 2; ctx.setLineDash([2, 5]);
  ctx.beginPath(); ctx.moveTo(X(0), y.getPixelForValue(dotTop)); ctx.lineTo(X(0), a.bottom); ctx.stroke();
  const [lo, q1, med, q3, hi] = stats;
  const py = y.getPixelForValue(yc);
  const h = Math.abs(y.getPixelForValue(yc + half) - py);
  ctx.setLineDash([]); ctx.strokeStyle = color; ctx.lineWidth = 2;
  ctx.beginPath();
  ctx.moveTo(X(lo), py); ctx.lineTo(X(q1), py);
  ctx.moveTo(X(q3), py); ctx.lineTo(X(hi), py);
  ctx.moveTo(X(lo), py - 6); ctx.lineTo(X(lo), py + 6);
  ctx.moveTo(X(hi), py - 6); ctx.lineTo(X(hi), py + 6);
  ctx.rect(X(q1), py - h, X(q3) - X(q1), 2 * h);
  ctx.moveTo(X(med), py - h); ctx.lineTo(X(med), py + h);
  ctx.stroke();
  if (star) {
    ctx.fillStyle = INK;
    ctx.font = `32px ${FONT}`;
    ctx.textAlign = 'center';
    ctx.textBaseline = 'alphabetic';
    ctx.fillText('**', X(0), y.getPixelForValue(1) + 21);
  }
  ctx.restore();
};

function drawAxes(chart: any, spec: Spec) {
  const { ctx, chartArea: a, scales: { x, y } } = chart;
  ctx.save();
  ctx.strokeStyle = INK; ctx.lineWidth = 2; ctx.setLineDash([]); ctx.lineCap = 'butt';
  ctx.beginPath();
  ctx.moveTo(a.left, a.top); ctx.lineTo(a.left, a.bottom + 1);
  ctx.moveTo(a.left - 1, a.bottom); ctx.lineTo(a.right, a.bottom);
  spec.yMajor.forEach((v) => { const p = y.getPixelForValue(v); ctx.moveTo(a.left - 13, p); ctx.lineTo(a.left, p); });
  spec.yMinor.forEach((v) => { const p = y.getPixelForValue(v); ctx.moveTo(a.left - 8, p); ctx.lineTo(a.left, p); });
  spec.xMajor.forEach((v) => { const p = x.getPixelForValue(v); ctx.moveTo(p, a.bottom); ctx.lineTo(p, a.bottom + 14); });
  spec.xMinor.forEach((v) => { const p = x.getPixelForValue(v); ctx.moveTo(p, a.bottom); ctx.lineTo(p, a.bottom + 8); });
  ctx.stroke();
  ctx.fillStyle = INK;
  ctx.font = `24px ${FONT}`;
  ctx.textAlign = 'center';
  ctx.textBaseline = 'middle';
  ctx.fillText(spec.xTitle, (a.left + a.right) / 2, a.bottom + 59.5);
  ctx.translate(a.left - 80, (a.top + a.bottom) / 2);
  ctx.rotate(-Math.PI / 2);
  ctx.fillText(spec.yTitle, 0, 0);
  ctx.restore();
}

function buildConfig(spec: Spec): any {
  const tickFont = { family: FONT, size: 22 };
  return {
    type: 'line',
    data: { datasets: spec.datasets },
    options: {
      animation: false, responsive: false, maintainAspectRatio: false, events: [],
      layout: { padding: { left: 0, top: PAD_T, right: PAD_R, bottom: 0 } },
      plugins: { legend: { display: false }, tooltip: { enabled: false }, title: { display: false } },
      elements: { point: { radius: 0 }, line: { borderJoinStyle: 'round' } },
      scales: {
        x: {
          type: 'linear', min: spec.x[0], max: spec.x[1],
          afterBuildTicks: (s: any) => { s.ticks = spec.xMajor.map((v) => ({ value: v })); },
          afterFit: (s: any) => { s.height = PAD_B; },
          grid: { display: false, drawTicks: false }, border: { display: false },
          ticks: { autoSkip: false, maxRotation: 0, minRotation: 0, padding: 20, color: INK, font: tickFont, callback: (v: any) => String(v) },
          title: { display: false },
        },
        y: {
          type: 'linear', min: spec.y[0], max: spec.y[1],
          afterBuildTicks: (s: any) => { s.ticks = spec.yMajor.map((v) => ({ value: v })); },
          afterFit: (s: any) => { s.width = PAD_L; },
          grid: { display: false, drawTicks: false }, border: { display: false },
          ticks: { autoSkip: false, padding: 19, color: INK, font: tickFont, callback: (v: any) => String(v) },
          title: { display: false },
        },
      },
    },
    plugins: [{
      id: 'decor',
      beforeDatasetsDraw(c: any) { if (spec.under) spec.under(c); },
      afterDatasetsDraw(c: any) { if (spec.over) spec.over(c); drawAxes(c, spec); },
    }],
  };
}

const TIME_X = [-101, 352];
const row1 = (key: string, col: number, yr: number[], yt: number[], mean: number[], traces: number[][], color: string, cs: number): Spec => ({
  key, col, row: 0, x: TIME_X, y: yr, xMajor: timeMajor, xMinor: timeMinor, yMajor: yt, yMinor: [],
  xTitle: 'Time (ms)', yTitle: 'Rel. spike rate (Hz)',
  datasets: [
    { data: mean.map((v, i) => ({ x: timeBins[i], y: v })), borderColor: '#1a1a1a', borderWidth: 2.3, pointRadius: 0, order: 0, cubicInterpolationMode: 'monotone' },
    ...traceSets(timeBins, traces, color, 1.7, 1, false),
  ],
  over: vDashed([0, cs]),
});
const row2 = (key: string, col: number, xr: number[], xM: number[], xm: number[], xTitle: string, dark: number[][], light: number[][], reg: number[], dc: string, lc: string): Spec => ({
  key, col, row: 1, x: xr, y: [-25, 125], xMajor: xM, xMinor: xm, yMajor: crTicks, yMinor: [],
  xTitle, yTitle: 'CR amplitude (%)',
  datasets: [regSet(reg), ...segSets(dark, dc, 2, 1), ...segSets(light, lc, 2, 2)],
});
const row3 = (key: string, col: number, grid: number[][], cmap: number[][], cs: number): Spec => ({
  key, col, row: 2, x: TIME_X, y: TIME_X, xMajor: timeMajor, xMinor: timeMinor, yMajor: timeMajor, yMinor: timeMinor,
  xTitle: 'Spike time (ms)', yTitle: 'Eyelid pos. time (ms)',
  datasets: [],
  under: heatUnder(grid, cmap),
  over: heatLines([0, cs], [0, cs]),
});
const row4 = (key: string, col: number, yr: number[], yt: number[], mean: number[], traces: number[][], lc: string, mc: string,
  box: number[], yc: number, dx: number[], dy: number[], dotC: string, boxC: string, dotTop: number, star: boolean): Spec => ({
  key, col, row: 3, x: [-100, 100], y: yr, xMajor: lagMajor, xMinor: lagMinor, yMajor: yt, yMinor: [],
  xTitle: 't(eyelid) - t(spikes)', yTitle: 'R-value',
  datasets: [
    { data: mean.map((v, i) => ({ x: lagBins[i], y: v })), borderColor: mc, borderWidth: 2.6, pointRadius: 0, order: 0, tension: 0.4 },
    dotSet(dx, dy, dotC),
    ...traceSets(lagBins, traces, lc, 1.6, 2, true),
  ],
  over: lagOver(box, yc, 0.075, boxC, dotTop, star),
});

const SPECS: Spec[] = [
  row1('A', 0, [-100, 400], rateBigTicks, meanA, tracesA, RED, 250),
  row1('E', 1, [-100, 400], rateBigTicks, meanE, tracesE, RED, 200),
  row1('I', 2, [-100, 150], rateSmallTicks, meanI, tracesI, BLUE, 250),
  row1('M', 3, [-100, 150], rateSmallTicks, meanM, tracesM, BLUE, 200),
  row2('B', 0, [-50, 250], facMajor, facMinor, 'Spike facilitation (Hz)', segsBDark, segsBLight, regB, RED, PINK),
  row2('F', 1, [-50, 250], facMajor, facMinor, 'Spike facilitation (Hz)', segsFDark, segsFLight, regF, RED, PINK),
  row2('J', 2, [-150, 20], supMajor, supMinor, 'Spike suppression (Hz)', segsJDark, segsJLight, regJ, DBLUE, LBLUE),
  row2('N', 3, [-150, 20], supMajor, supMinor, 'Spike suppression (Hz)', segsNDark, segsNLight, regN, DBLUE, LBLUE),
  row3('C', 0, heatC, heatRedMap, 250),
  row3('G', 1, heatG, heatRedMap, 200),
  row3('K', 2, heatK, heatBlueMap, 250),
  row3('O', 3, heatO, heatBlueMap, 200),
  row4('D', 0, [-0.5, 1], rPosTicks, meanD, tracesD, R4PINK, R4RED, boxD, 0.9, dotsDx, dotsDy, 'rgb(246,158,158)', 'rgb(232,36,40)', 0.88, true),
  row4('H', 1, [-0.5, 1], rPosTicks, meanH, tracesH, R4PINK, R4RED, boxH, 0.9, dotsHx, dotsHy, 'rgb(246,158,158)', 'rgb(232,36,40)', 0.88, true),
  row4('L', 2, [-1, 0.5], rNegTicks, meanL, tracesL, LAV, MBLUE, boxL, -0.8, dotsLx, dotsLy, 'rgb(166,166,214)', 'rgb(44,86,172)', 0.45, false),
  row4('P', 3, [-1, 0.5], rNegTicks, meanP, tracesP, LAV, MBLUE, boxP, -0.8, dotsPx, dotsPy, 'rgb(166,166,214)', 'rgb(44,86,172)', 0.45, false),
];

const PIES = [
  { key: 'pB', cx: 346, cy: 470, values: pieB, colors: ['rgb(232,62,58)', 'rgb(250,206,200)'] },
  { key: 'pF', cx: 678, cy: 470, values: pieF, colors: ['rgb(232,62,58)', 'rgb(250,206,200)'] },
  { key: 'pJ', cx: 1009, cy: 470, values: pieJ, colors: ['rgb(56,96,186)', 'rgb(202,212,238)'] },
  { key: 'pN', cx: 1341, cy: 470, values: pieN, colors: ['rgb(56,96,186)', 'rgb(202,212,238)'] },
];

const LETTERS = [
  ['A', 0, 0], ['B', 0, 1], ['C', 0, 2], ['D', 0, 3],
  ['E', 1, 0], ['F', 1, 1], ['G', 1, 2], ['H', 1, 3],
  ['I', 2, 0], ['J', 2, 1], ['K', 2, 2], ['L', 2, 3],
  ['M', 3, 0], ['N', 3, 1], ['O', 3, 2], ['P', 3, 3],
];
const LETTER_X = [63, 395, 727, 1059];
const LETTER_Y = [59, 401, 745, 1088];

function PanelChart({ spec }: { spec: Spec }) {
  const ref = useRef<HTMLCanvasElement>(null);
  useEffect(() => {
    const chart = new Chart(ref.current as HTMLCanvasElement, buildConfig(spec));
    return () => chart.destroy();
  }, []);
  return (
    <canvas ref={ref} width={CW} height={CH}
      style={{ position: 'absolute', left: COL_LEFT[spec.col] - PAD_L, top: ROW_TOP[spec.row] - PAD_T, width: CW, height: CH }} />
  );
}

function PieChart({ cx, cy, values, colors }: { cx: number; cy: number; values: number[]; colors: string[] }) {
  const ref = useRef<HTMLCanvasElement>(null);
  const size = 52;
  useEffect(() => {
    const chart = new Chart(ref.current as HTMLCanvasElement, {
      type: 'pie',
      data: { datasets: [{ data: values, backgroundColor: colors, borderColor: INK, borderWidth: 2 }] },
      options: {
        animation: false, responsive: false, maintainAspectRatio: false, events: [],
        layout: { padding: 1 },
        plugins: { legend: { display: false }, tooltip: { enabled: false } },
      },
    } as any);
    return () => chart.destroy();
  }, []);
  return <canvas ref={ref} width={size} height={size}
    style={{ position: 'absolute', left: cx - size / 2, top: cy - size / 2, width: size, height: size }} />;
}

export default function App() {
  return (
    <div style={{ position: 'absolute', left: 0, top: 0, width: 1443, height: 1459, background: '#fff', overflow: 'hidden', fontFamily: FONT }}>
      <div style={{ position: 'absolute', left: 5, top: 10, width: 1432, height: 1444, border: '1px solid #8c8c8c' }} />
      {SPECS.map((s) => <PanelChart key={s.key} spec={s} />)}
      {PIES.map((p) => <PieChart key={p.key} cx={p.cx} cy={p.cy} values={p.values} colors={p.colors} />)}
      {LETTERS.map(([l, c, r]) => (
        <div key={l as string} style={{
          position: 'absolute', left: LETTER_X[c as number], top: LETTER_Y[r as number] - 4,
          fontSize: 28, lineHeight: '28px', fontWeight: 'bold', color: INK, fontFamily: FONT,
        }}>{l}</div>
      ))}
    </div>
  );
}
